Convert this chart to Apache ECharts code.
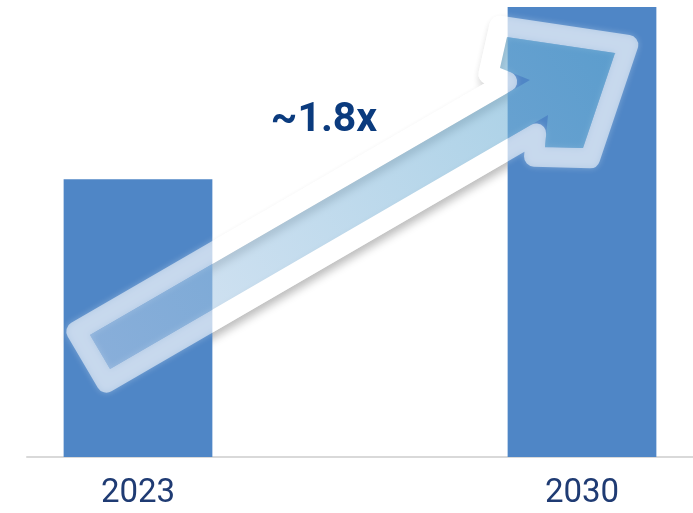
<!DOCTYPE html>
<html>
<head>
<meta charset="utf-8">
<script src="https://cdn.jsdelivr.net/npm/echarts@6/dist/echarts.min.js"></script>
<style>
html,body{margin:0;padding:0;background:#fff;}
#chart{width:693px;height:513px;}
</style>
</head>
<body>
<div id="chart"></div>
<script>
// ---- data ----
const categories = ['2023', '', '2030'];
const values = [1.0, '-', 1.62];
const growthLabel = '~1.8x';

// ---- chart ----
const chart = echarts.init(document.getElementById('chart'), null, {renderer: 'canvas'});
chart.setOption({
  animation: false,
  grid: {left: 27, right: 0, top: 7, bottom: 56},
  xAxis: {
    type: 'category',
    data: categories,
    axisLine: {lineStyle: {color: '#d9d9d9', width: 2}},
    axisTick: {show: false},
    axisLabel: {fontFamily: 'Roboto', fontSize: 33, color: '#1f3b73', margin: 20}
  },
  yAxis: {type: 'value', min: 0, max: 1.62, show: false, splitLine: {show: false}},
  series: [{
    type: 'bar',
    z: 5,
    data: values,
    barWidth: '67%',
    itemStyle: {color: '#4f86c6'}
  }]
});

// ---- decorative arrow, anchored to the first bar's base ----
const base = chart.convertToPixel({seriesIndex: 0}, [0, 0]);
const rel = [[-48,-122],[392,-377],[362,-389],[369,-420],[477,-404],[445,-309],[407,-310],[410,-342],[-28,-88]];
const inner = rel.map(p => [base[0] + p[0], base[1] + p[1]]);

function offsetPolygon(pts, d) {
  const n = pts.length;
  let a2 = 0;
  for (let i = 0; i < n; i++) {
    const p = pts[i], q = pts[(i + 1) % n];
    a2 += p[0] * q[1] - q[0] * p[1];
  }
  const s = a2 > 0 ? 1 : -1;
  const lines = pts.map((p, i) => {
    const q = pts[(i + 1) % n];
    const dx = q[0] - p[0], dy = q[1] - p[1];
    const L = Math.hypot(dx, dy);
    const nx = s * dy / L, ny = -s * dx / L;
    return [p[0] + nx * d, p[1] + ny * d, dx, dy];
  });
  return pts.map((p, i) => {
    const l1 = lines[(i - 1 + n) % n], l2 = lines[i];
    const det = l1[2] * l2[3] - l1[3] * l2[2];
    const t = ((l2[0] - l1[0]) * l2[3] - (l2[1] - l1[1]) * l2[2]) / det;
    return [l1[0] + t * l1[2], l1[1] + t * l1[3]];
  });
}
const mid = offsetPolygon(inner, 10);

const bar2Top = chart.convertToPixel({seriesIndex: 0}, [2, 1.62]);

chart.setOption({
  graphic: [
    // white outline + drop shadow, beneath the bars (visible on white background only)
    {
      type: 'polygon', z: 1, silent: true,
      shape: {points: mid},
      style: {
        fill: '#ffffff', stroke: '#ffffff', lineWidth: 20, lineJoin: 'round',
        shadowBlur: 9, shadowColor: 'rgba(0,0,0,0.28)', shadowOffsetX: 2, shadowOffsetY: 5
      }
    },
    // translucent outline above bars with a soft glow
    {
      type: 'polygon', z: 10, silent: true,
      shape: {points: mid},
      style: {
        fill: 'none', stroke: 'rgba(255,255,255,0.56)', lineWidth: 20, lineJoin: 'round',
        shadowBlur: 6, shadowColor: 'rgba(255,255,255,0.5)'
      }
    },
    {
      type: 'polygon', z: 11, silent: true,
      shape: {points: inner},
      style: {
        fill: {
          type: 'linear', x: 0, y: 1, x2: 1, y2: 0,
          colorStops: [
            {offset: 0, color: 'rgba(185,208,234,0.55)'},
            {offset: 1, color: 'rgba(100,172,210,0.6)'}
          ]
        }
      }
    },
    {
      type: 'text', z: 12, silent: true,
      x: base[0] + 186, y: bar2Top[1] + 114,
      style: {
        text: growthLabel, font: 'bold 41px Roboto', fill: '#0b3b7e',
        align: 'center', verticalAlign: 'middle'
      }
    }
  ]
});
</script>
</body>
</html>
